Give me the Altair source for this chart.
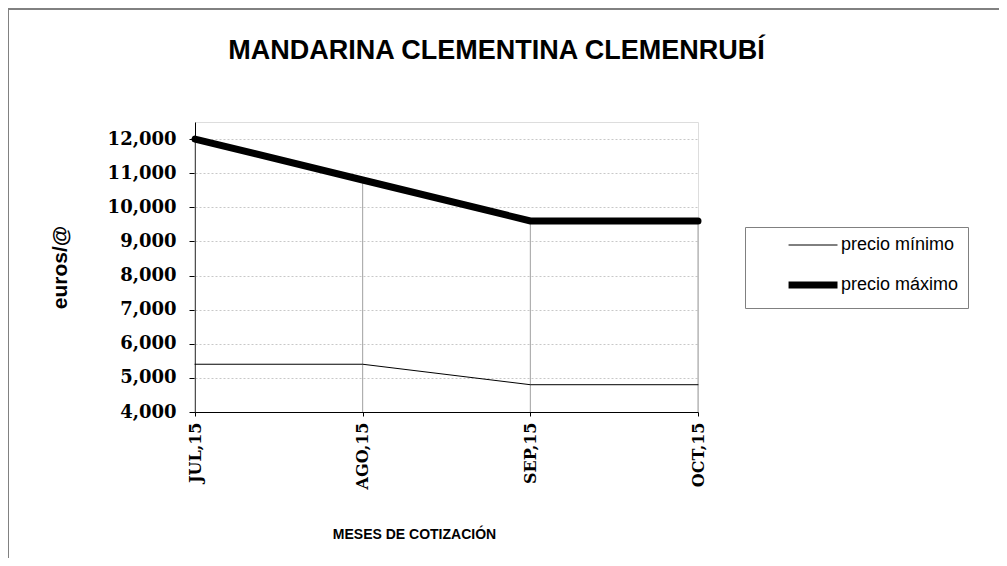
import altair as alt
import pandas as pd

months = ["JUL,15", "AGO,15", "SEP,15", "OCT,15"]
precio_min = [5400, 5400, 4800, 4800]
precio_max = [12000, 10800, 9600, 9600]
series_names = ["precio mínimo", "precio máximo"]
y_ticks = [4000, 5000, 6000, 7000, 8000, 9000, 10000, 11000, 12000]

rows = []
for m, v in zip(months, precio_min):
    rows.append({"mes": m, "valor": v, "serie": series_names[0]})
for m, v in zip(months, precio_max):
    rows.append({"mes": m, "valor": v, "serie": series_names[1]})
df = pd.DataFrame(rows)
df_drop = pd.DataFrame({"mes": months, "maximo": precio_max})

xaxis = alt.Axis(title="MESES DE COTIZACIÓN", titleX=219, titleY=122,
                 titleBaseline="middle", titleAlign="center",
                 titleFont="Liberation Sans", titleFontSize=14, titleFontWeight="bold",
                 labelAngle=-90, labelFont="DejaVu Serif", labelFontWeight="bold",
                 labelFontSize=16, labelPadding=6, tickSize=4, grid=False,
                 domainColor="black", tickColor="black", labelColor="black")
yaxis = alt.Axis(title="euros/@", values=y_ticks, format=",d", labelOverlap=False,
                 tickCount=9,
                 titleX=-135, titleY=145, titleAngle=-90, titleAlign="center",
                 titleBaseline="middle", titleFont="Liberation Sans",
                 titleFontSize=21, titleFontWeight="bold",
                 labelFont="DejaVu Serif", labelFontWeight="bold", labelFontSize=18,
                 labelPadding=13, tickSize=6, labelColor="black",
                 domainColor="black", tickColor="black",
                 gridColor="#c8c8c8", gridDash=[2, 2], gridWidth=1)
xscale = alt.Scale(type="point", padding=0)
yscale = alt.Scale(domain=[4000, 12500], nice=False, zero=False)

drops = alt.Chart(df_drop).mark_rule(color="#a0a0a0", strokeWidth=1).encode(
    x=alt.X("mes:N", sort=months, scale=xscale, axis=xaxis),
    y=alt.Y("maximo:Q", scale=yscale, axis=yaxis),
    y2=alt.datum(4000),
)

lines = alt.Chart(df).mark_line(color="black", strokeCap="round").encode(
    x=alt.X("mes:N", sort=months, scale=xscale, axis=xaxis),
    y=alt.Y("valor:Q", scale=yscale, axis=yaxis),
    strokeWidth=alt.StrokeWidth("serie:N",
        scale=alt.Scale(domain=series_names, range=[1, 7]),
        legend=alt.Legend(title=None, orient="none", legendX=550, legendY=105,
                          symbolType="M-7.9,0H1", symbolSize=121, symbolStrokeColor="black",
                          labelFont="Liberation Sans", labelFontSize=18, labelColor="black",
                          padding=9, symbolOffset=69, labelOffset=0,
                          strokeColor="#808080", rowPadding=17)),
    detail="serie:N",
)

border_top = alt.Chart(df_drop).mark_rule(color="#808080", strokeWidth=1.5).encode(
    x=alt.value(-187), x2=alt.value(830), y=alt.value(-113))
border_left = alt.Chart(df_drop).mark_rule(color="#808080", strokeWidth=1.5).encode(
    x=alt.value(-187), y=alt.value(-113), y2=alt.value(460))

chart = alt.layer(border_top, border_left, drops, lines).properties(
    width=503, height=290,
    title=alt.TitleParams("MANDARINA CLEMENTINA CLEMENRUBÍ", font="Liberation Sans",
                          fontSize=27, fontWeight="bold", color="black",
                          anchor="middle", frame="group", dx=50, dy=61),
    autosize=alt.AutoSizeParams(type="none"),
    padding={"left": 187, "top": 114, "right": 301, "bottom": 146},
).configure_view(stroke="transparent").configure(background="white")

chart.save("out.html", embed_options={"renderer": "svg", "actions": False})
